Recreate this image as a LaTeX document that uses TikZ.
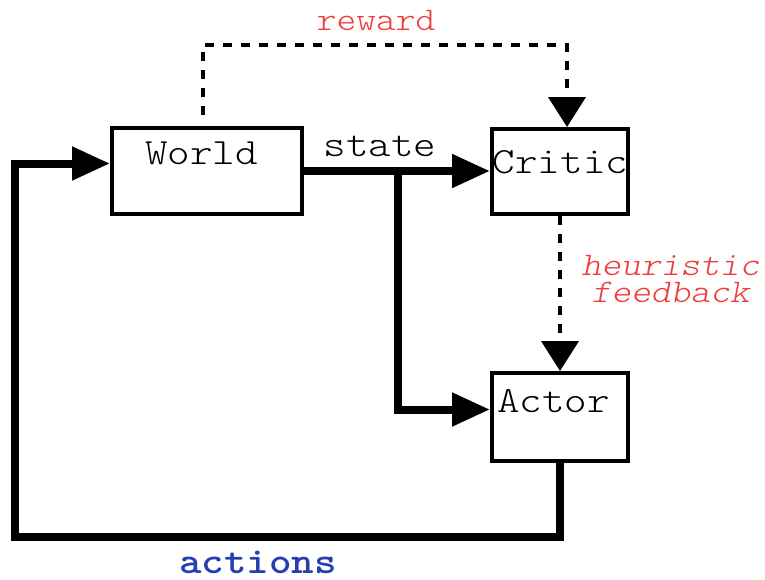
\documentclass[tikz,border=0pt]{standalone}
\usepackage{fontspec}
\usetikzlibrary{arrows.meta,calc}

\definecolor{lblred}{RGB}{238,60,60}
\definecolor{lblblue}{RGB}{38,62,178}

% light typewriter face for the labels
\newcommand{\lbltt}[1]{\ttfamily\fontseries{l}\selectfont\fontsize{#1}{#1}\selectfont}

\begin{document}
\begin{tikzpicture}[x=1pt,y=-1pt,
  box/.style={draw,line width=4pt,inner sep=0pt,rectangle},
  boxtext/.style={anchor=base,inner sep=0pt,xscale=1.16,font=\lbltt{37}},
  redtext/.style={anchor=base,inner sep=0pt,xscale=1.14,text=lblred,font=\lbltt{33}},
  thickline/.style={line width=8pt,line join=miter},
  thickhead/.style={-{Triangle[length=38pt,width=32pt]}},
  dashline/.style={line width=4pt,dash pattern=on 9pt off 9pt},
  dashhead/.style={-{Triangle[length=30pt,width=37pt]}}
]
\useasboundingbox (0,0) rectangle (765,579);

% blocks
\node[box,minimum width=190pt,minimum height=86pt] (world)  at (207,171)   {};
\node[box,minimum width=136pt,minimum height=85pt] (critic) at (560,171.5) {};
\node[box,minimum width=136pt,minimum height=88pt] (actor)  at (560,417)   {};

% block names
\node[boxtext] (worldlbl)  at (201.5,164) {World};
\node[boxtext] (criticlbl) at (560.5,173) {Critic};
\node[boxtext] (actorlbl)  at (553.5,412) {Actor};

% state: world to critic, branching down to the actor
\draw[thickline,thickhead] (world.east) -- (world.east -| critic.west);
\coordinate (split) at (397.5,172);
\coordinate (actorin) at ($(actor.west)+(0,-7.5)$);
\draw[thickline,thickhead] (split) -- (split |- actorin) -- (actorin);
\node[boxtext] (statelbl) at (380,156) {state};

% reward: world to critic
\coordinate (rewardstart) at (203,115);
\coordinate (rewardturn) at (567,45);
\draw[dashline,dashhead] (rewardstart) |- (rewardturn) -- (rewardturn |- critic.north);
\node[redtext] (rewardlbl) at (376,30) {reward};

% heuristic feedback: critic to actor
\draw[dashline,dashhead] (critic.south) -- (actor.north);
\node[redtext,font=\lbltt{33}\itshape] (heurlbl) at (670.5,275) {heuristic};
\node[redtext,font=\lbltt{33}\itshape] (feedlbl) at (670.5,302) {feedback};

% actions: actor back to world
\coordinate (botR) at (560,537);
\coordinate (botL) at (15,537);
\coordinate (topL) at (15,163.5);
\draw[thickline,thickhead] (actor.south) -- (botR) -- (botL) -- (topL) -- (topL -| world.west);
\node[boxtext,text=lblblue,font=\ttfamily\bfseries\fontsize{37}{37}\selectfont] (actionslbl) at (258,573) {actions};

\end{tikzpicture}
\end{document}
